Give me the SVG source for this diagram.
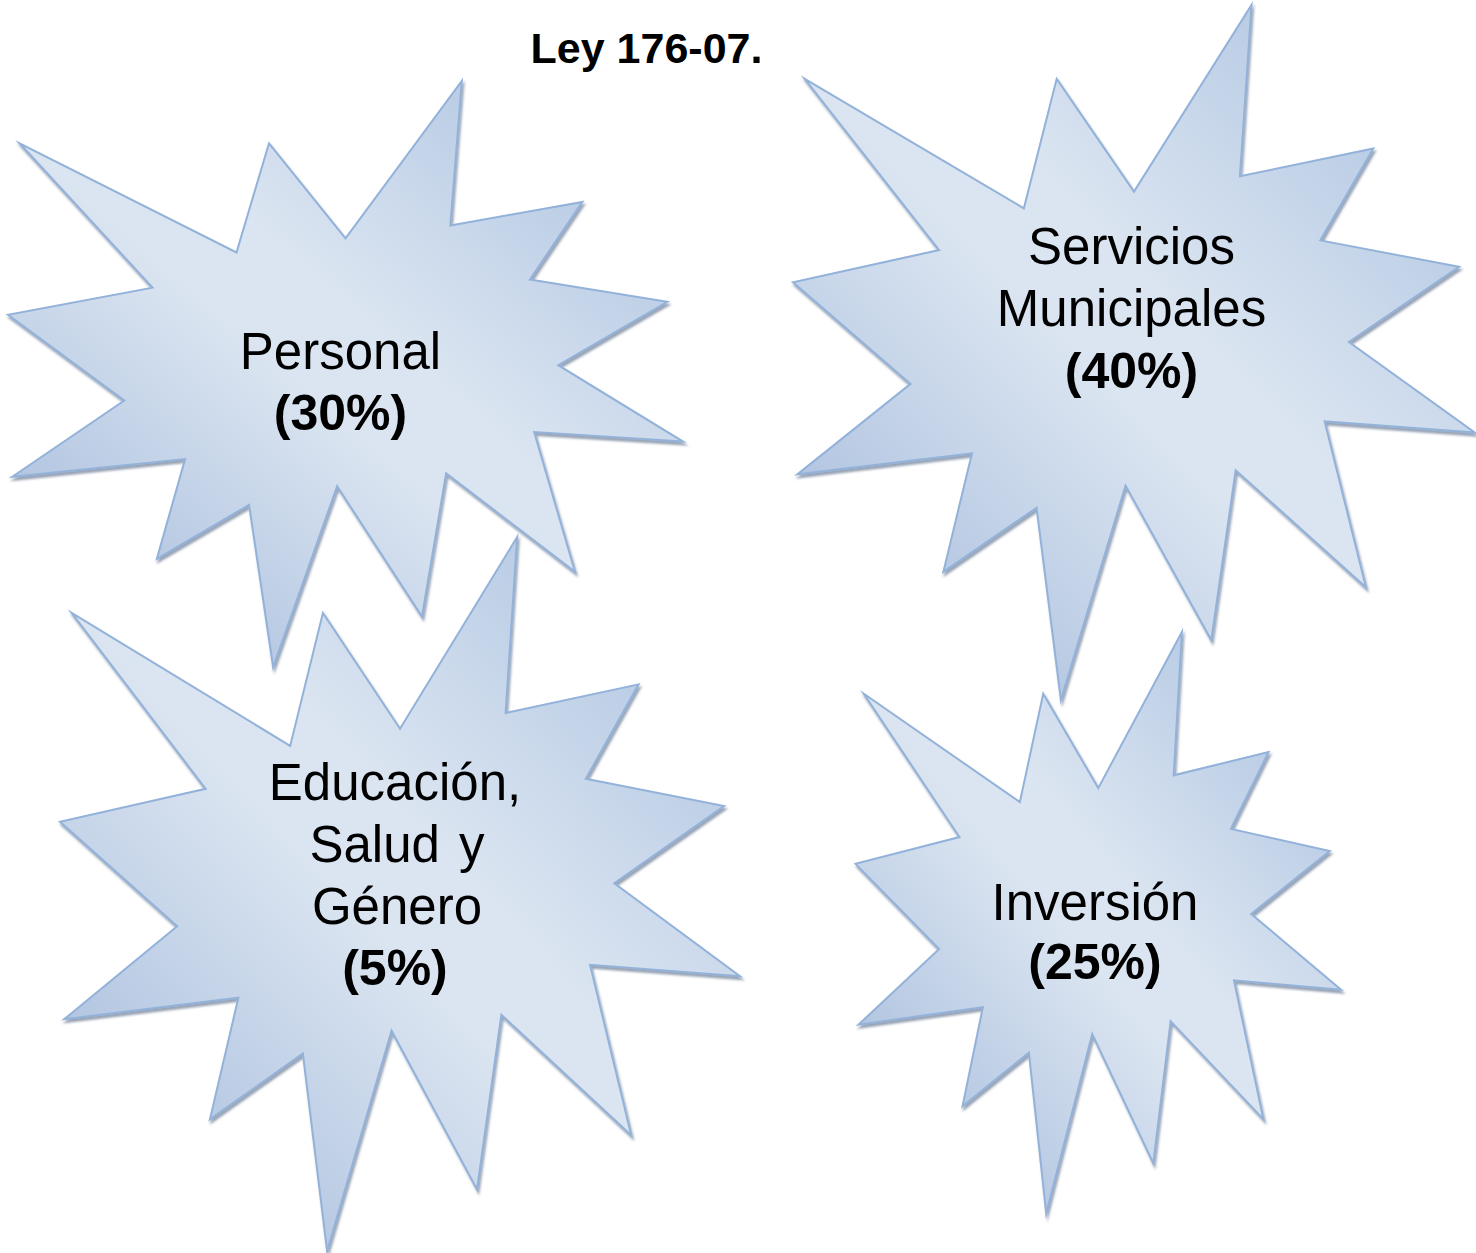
<svg xmlns="http://www.w3.org/2000/svg" xmlns:xlink="http://www.w3.org/1999/xlink" width="1476" height="1253" viewBox="0 0 1476 1253">
  <defs>
    <linearGradient id="sealFill" x1="0" y1="1" x2="1" y2="0">
      <stop offset="0" stop-color="#9cb4d8"/>
      <stop offset="0.46" stop-color="#dbe5f1"/>
      <stop offset="0.56" stop-color="#dbe5f1"/>
      <stop offset="1" stop-color="#a6bede"/>
    </linearGradient>
    <filter id="shadow" x="-5%" y="-5%" width="112%" height="112%">
      <feDropShadow dx="1.5" dy="3" stdDeviation="1" flood-color="#44587a" flood-opacity="0.55"/>
    </filter>
    <path id="seal" class="seal" d="M10800,5800 L14522,0 L14155,5325 L18380,4457 L16702,7315 L21097,8137 L17607,10475 L21600,13290 L16837,12942 L18145,18095 L14020,14457 L13247,19737 L10532,14935 L8485,21600 L7715,15627 L4762,17617 L5667,13937 L135,14587 L3722,11775 L0,8615 L4627,7617 L370,2295 L7312,6320 L8352,2295 Z"/>
  </defs>
  <style>
    .seal { fill: url(#sealFill); stroke: #93b2da; stroke-width: 2; stroke-linejoin: miter; stroke-miterlimit: 8; vector-effect: non-scaling-stroke; }
    .lbl { font-family: "Liberation Sans", Arial, sans-serif; font-size: 51px; fill: #000; text-anchor: middle; }
    .pct { font-weight: bold; font-size: 50px; }
    .title { font-family: "Liberation Sans", Arial, sans-serif; font-size: 43px; font-weight: bold; fill: #000; text-anchor: middle; }
  </style>
  <rect x="0" y="0" width="1476" height="1253" fill="#ffffff"/>

  <g id="title">
    <text class="title" x="646.5" y="63">Ley 176-07.</text>
  </g>

  <g id="node-personal">
    <g filter="url(#shadow)">
      <use xlink:href="#seal" href="#seal" transform="translate(8,81) scale(0.03125,0.027130)"/>
    </g>
    <text class="lbl" x="340.5" y="368.5">Personal</text>
    <text class="lbl pct" x="340.5" y="430">(30%)</text>
  </g>

  <g id="node-servicios">
    <g filter="url(#shadow)">
      <use xlink:href="#seal" href="#seal" transform="translate(793,5) scale(0.031574,0.032176)"/>
    </g>
    <text class="lbl" x="1131.5" y="264">Servicios</text>
    <text class="lbl" x="1131.5" y="325.5">Municipales</text>
    <text class="lbl pct" x="1131.5" y="388">(40%)</text>
  </g>

  <g id="node-educacion">
    <g filter="url(#shadow)">
      <use xlink:href="#seal" href="#seal" transform="translate(60,537) scale(0.031481,0.033056)"/>
    </g>
    <text class="lbl" x="395" y="800">Educación,</text>
    <text class="lbl" x="397" y="862" word-spacing="5">Salud y</text>
    <text class="lbl" x="397" y="924">Género</text>
    <text class="lbl pct" x="395" y="985">(5%)</text>
  </g>

  <g id="node-inversion">
    <g filter="url(#shadow)">
      <use xlink:href="#seal" href="#seal" transform="translate(855.5,632) scale(0.022477,0.026917)"/>
    </g>
    <text class="lbl" x="1095" y="919.5">Inversión</text>
    <text class="lbl pct" x="1095" y="979">(25%)</text>
  </g>

  <g id="connectors"/>
</svg>
